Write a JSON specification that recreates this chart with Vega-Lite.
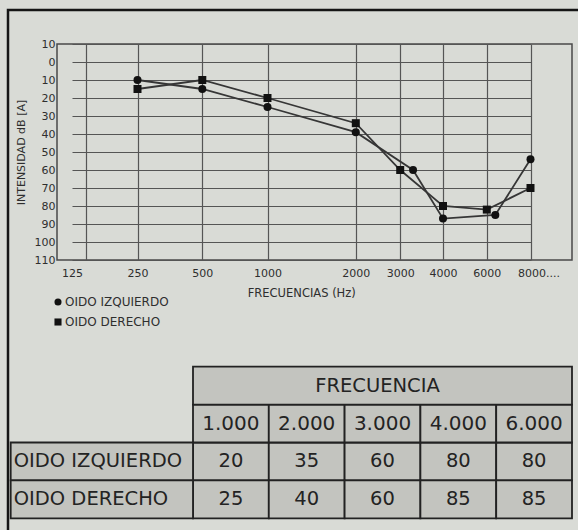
{
  "$schema": "https://vega.github.io/schema/vega-lite/v6.json",
  "width": 515,
  "height": 216,
  "autosize": "none",
  "padding": {"left": 57, "top": 44, "right": 6, "bottom": 270},
  "background": "#d9dbd6",
  "config": {
    "font": "DejaVu Sans",
    "view": {"stroke": "#4a4a4a", "strokeWidth": 1.5},
    "axis": {"labelFont": "DejaVu Sans", "titleFont": "DejaVu Sans", "labelColor": "#2e2e2e", "titleColor": "#2e2e2e", "titleFontWeight": "normal", "gridColor": "#555555", "gridWidth": 1.2, "domain": false, "ticks": false},
    "legend": {"labelFont": "DejaVu Sans", "labelColor": "#2e2e2e"}
  },
  "datasets": {
    "audiogram": [
      {"ear": "OIDO IZQUIERDO", "freq": 250, "db": 10},
      {"ear": "OIDO IZQUIERDO", "freq": 500, "db": 15},
      {"ear": "OIDO IZQUIERDO", "freq": 1000, "db": 25},
      {"ear": "OIDO IZQUIERDO", "freq": 2000, "db": 39},
      {"ear": "OIDO IZQUIERDO", "freq": 3300, "db": 60},
      {"ear": "OIDO IZQUIERDO", "freq": 4000, "db": 87},
      {"ear": "OIDO IZQUIERDO", "freq": 6390, "db": 85},
      {"ear": "OIDO IZQUIERDO", "freq": 8000, "db": 54},
      {"ear": "OIDO DERECHO", "freq": 250, "db": 15},
      {"ear": "OIDO DERECHO", "freq": 500, "db": 10},
      {"ear": "OIDO DERECHO", "freq": 1000, "db": 20},
      {"ear": "OIDO DERECHO", "freq": 2000, "db": 34},
      {"ear": "OIDO DERECHO", "freq": 3000, "db": 60},
      {"ear": "OIDO DERECHO", "freq": 4000, "db": 80},
      {"ear": "OIDO DERECHO", "freq": 6000, "db": 82},
      {"ear": "OIDO DERECHO", "freq": 8000, "db": 70}
    ],
    "table": [
      {"ear": "OIDO IZQUIERDO", "freq": "1.000", "db": 20},
      {"ear": "OIDO IZQUIERDO", "freq": "2.000", "db": 35},
      {"ear": "OIDO IZQUIERDO", "freq": "3.000", "db": 60},
      {"ear": "OIDO IZQUIERDO", "freq": "4.000", "db": 80},
      {"ear": "OIDO IZQUIERDO", "freq": "6.000", "db": 80},
      {"ear": "OIDO DERECHO", "freq": "1.000", "db": 25},
      {"ear": "OIDO DERECHO", "freq": "2.000", "db": 40},
      {"ear": "OIDO DERECHO", "freq": "3.000", "db": 60},
      {"ear": "OIDO DERECHO", "freq": "4.000", "db": 85},
      {"ear": "OIDO DERECHO", "freq": "6.000", "db": 85}
    ],
    "header": [{"label": "FRECUENCIA"}]
  },
  "resolve": {"scale": {"x": "independent", "y": "independent"}},
  "layer": [
    {
      "data": {"values": [{}]},
      "mark": {"type": "rect", "fill": null, "stroke": "#151515", "strokeWidth": 2.5},
      "encoding": {
        "x": {"datum": 0, "type": "quantitative", "scale": {"domain": [0, 1], "range": [-49, 525], "zero": false, "nice": false}, "axis": null},
        "x2": {"datum": 1},
        "y": {"datum": 0, "type": "quantitative", "scale": {"domain": [0, 1], "range": [-34, 492], "zero": false, "nice": false}, "axis": null},
        "y2": {"datum": 1}
      }
    },
    {
      "data": {"name": "audiogram"},
      "encoding": {
        "x": {
          "field": "freq", "type": "quantitative",
          "scale": {"domain": [125, 250, 500, 1000, 2000, 3000, 4000, 6000, 8000], "range": [15, 80.5, 145.3, 210.5, 298.8, 343.2, 386, 429.8, 473.5], "zero": false, "nice": false},
          "axis": {
            "values": [125, 152, 250, 500, 1000, 2000, 3000, 4000, 6000, 8000],
            "labelExpr": "datum.value == 152 ? '' : datum.value == 8000 ? '8000....' : format(datum.value, 'd')",
            "labelFontSize": 11, "labelPadding": 7, "labelOverlap": false, "labelFlush": false, "labelBound": false,
            "labelOffset": {"condition": {"test": "datum.value == 8000", "value": 8}, "value": 0},
            "grid": true,
            "gridOpacity": {"condition": {"test": "datum.value == 125", "value": 0}, "value": 1},
            "title": "FRECUENCIAS (Hz)", "titleFontSize": 11.5, "titlePadding": 9
          }
        },
        "y": {
          "field": "db", "type": "quantitative",
          "scale": {"domain": [-10, 110], "reverse": true, "zero": false, "nice": false},
          "axis": {
            "values": [-10, 0, 10, 20, 30, 40, 50, 60, 70, 80, 90, 100, 110],
            "labelExpr": "'' + abs(datum.value)",
            "labelFontSize": 11, "labelPadding": 2, "labelOverlap": false, "labelFlush": false, "grid": true,
            "title": "INTENSIDAD dB [A]", "titleFontSize": 11, "titlePadding": 8
          }
        }
      },
      "layer": [
        {"mark": {"type": "line", "color": "#363636", "strokeWidth": 1.8}, "encoding": {"detail": {"field": "ear"}}},
        {
          "mark": {"type": "point", "filled": true, "color": "#111111", "opacity": 1, "size": 64},
          "encoding": {
            "shape": {
              "field": "ear", "type": "nominal",
              "scale": {"domain": ["OIDO IZQUIERDO", "OIDO DERECHO"], "range": ["circle", "square"]},
              "legend": {"orient": "none", "legendX": -5, "legendY": 252, "direction": "vertical", "title": null, "labelFontSize": 12, "symbolSize": 50, "rowPadding": 8, "labelOffset": 1, "padding": 0, "symbolFillColor": "#111111", "symbolStrokeWidth": 0}
            }
          }
        }
      ]
    },
    {
      "resolve": {"scale": {"x": "independent"}},
      "layer": [
        {
          "data": {"name": "table"},
          "encoding": {
            "x": {"field": "freq", "type": "nominal", "scale": {"domain": ["1.000", "2.000", "3.000", "4.000", "6.000"], "range": [136, 515], "paddingInner": 0, "paddingOuter": 0}, "axis": null},
            "y": {"field": "ear", "type": "nominal", "scale": {"domain": ["TITLE", "FREQ", "OIDO IZQUIERDO", "OIDO DERECHO"], "range": [322.7, 474.3], "paddingInner": 0, "paddingOuter": 0}, "axis": null}
          },
          "layer": [
            {"mark": {"type": "rect", "fill": "#c3c4bf", "stroke": "#222222", "strokeWidth": 1.8}},
            {"mark": {"type": "text", "fontSize": 19.5, "color": "#232323"}, "encoding": {"text": {"field": "db"}}}
          ]
        },
        {
          "data": {"name": "table"},
          "transform": [{"filter": "datum.ear == 'OIDO IZQUIERDO'"}],
          "encoding": {
            "x": {"field": "freq", "type": "nominal", "scale": {"domain": ["1.000", "2.000", "3.000", "4.000", "6.000"], "range": [136, 515], "paddingInner": 0, "paddingOuter": 0}, "axis": null},
            "y": {"datum": "FREQ", "type": "nominal", "axis": null}
          },
          "layer": [
            {"mark": {"type": "rect", "fill": "#c3c4bf", "stroke": "#222222", "strokeWidth": 1.8}},
            {"mark": {"type": "text", "fontSize": 20, "color": "#232323"}, "encoding": {"text": {"field": "freq"}}}
          ]
        },
        {
          "data": {"name": "header"},
          "encoding": {
            "x": {"field": "label", "type": "nominal", "scale": {"domain": ["FRECUENCIA"], "range": [136, 515], "paddingInner": 0, "paddingOuter": 0}, "axis": null},
            "y": {"datum": "TITLE", "type": "nominal", "axis": null}
          },
          "layer": [
            {"mark": {"type": "rect", "fill": "#c3c4bf", "stroke": "#222222", "strokeWidth": 1.8}},
            {"mark": {"type": "text", "fontSize": 19.5, "color": "#232323", "dx": -5}, "encoding": {"text": {"field": "label"}}}
          ]
        },
        {
          "data": {"name": "table"},
          "transform": [{"filter": "datum.freq == '1.000'"}],
          "encoding": {
            "x": {"datum": "ROW", "type": "nominal", "scale": {"domain": ["ROW"], "range": [-46.3, 136], "paddingInner": 0, "paddingOuter": 0}, "axis": null},
            "y": {"field": "ear", "type": "nominal", "axis": null}
          },
          "layer": [
            {"mark": {"type": "rect", "fill": "#c3c4bf", "stroke": "#222222", "strokeWidth": 1.8}},
            {"mark": {"type": "text", "fontSize": 19.5, "color": "#232323", "align": "left", "dx": 3}, "encoding": {"x": {"datum": "ROW", "type": "nominal", "bandPosition": 0}, "text": {"field": "ear"}}}
          ]
        }
      ]
    }
  ]
}
